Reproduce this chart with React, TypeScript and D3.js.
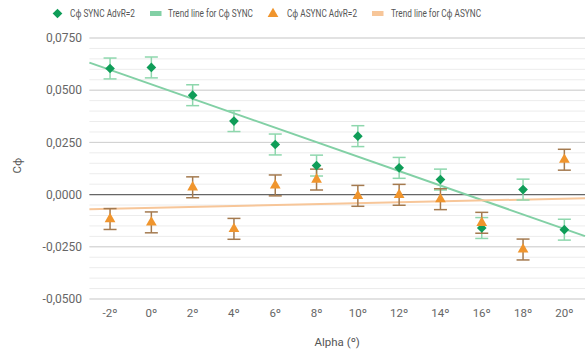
import React from "react";
import * as d3 from "d3";

const categories = ["-2º", "0º", "2º", "4º", "6º", "8º", "10º", "12º", "14º", "16º", "18º", "20º"];
const syncValues = [0.0604, 0.0609, 0.0476, 0.0352, 0.024, 0.0139, 0.028, 0.0128, 0.0072, -0.016, 0.0024, -0.0168];
const asyncValues = [-0.0117, -0.0133, 0.0035, -0.0164, 0.0044, 0.0072, -0.0006, -0.0001, -0.0022, -0.0135, -0.0263, 0.0167];
const errorMargin = 0.005;
const yTicks = [-0.05, -0.025, 0, 0.025, 0.05, 0.075];
const legendLabels = ["Cϕ SYNC AdvR=2", "Trend line for Cϕ SYNC", "Cϕ ASYNC AdvR=2", "Trend line for Cϕ ASYNC"];

const W = 587, H = 352;
const left = 89.4, right = 585, top = 38, bottom = 299;
const font = "Roboto, 'Noto Sans', sans-serif";

function regression(vals: number[]) {
  const n = vals.length;
  const mx = (n - 1) / 2;
  const my = d3.mean(vals) as number;
  let sxy = 0, sxx = 0;
  vals.forEach((v, i) => { sxy += (i - mx) * (v - my); sxx += (i - mx) * (i - mx); });
  const b = sxy / sxx;
  return (i: number) => my + b * (i - mx);
}

export default function App() {
  const x = d3.scaleBand<string>().domain(categories).range([left, right]);
  const bw = x.bandwidth();
  const cx = (i: number) => (x(categories[i]) as number) + bw / 2;
  const y = d3.scaleLinear().domain([-0.05, 0.075]).range([bottom, top]);
  const minor = d3.range(-0.05, 0.0751, 0.005).map(v => Math.round(v * 1000) / 1000);
  const fmt = (v: number) => (v < 0 ? "-" : "") + Math.abs(v).toFixed(4).replace(".", ",");
  const iToX = d3.scaleLinear().domain([-0.5, categories.length - 0.5]).range([left, right]);
  const rs = regression(syncValues);
  const ra = regression(asyncValues);
  const trend = (f: (i: number) => number) => {
    const line = d3.line<number>().x(i => iToX(i)).y(i => y(f(i)));
    return line([-0.5, categories.length - 0.5]) as string;
  };
  const green = "#0f9d58";
  const greenLight = "#8ed7ad";
  const greenTrend = "#82d0a5";
  const orange = "#f0952d";
  const brown = "#a47a4f";
  const orangeTrend = "#f7c699";
  const cap = 6.5;
  const diamond = d3.symbol().type(d3.symbolDiamond2).size(60)() as string;
  const tri = d3.symbol().type(d3.symbolTriangle).size(50)() as string;

  return (
    <svg width={W} height={H} style={{ position: "absolute", left: 0, top: 0, background: "#fff" }}>
      {minor.map(v => (
        <line key={"m" + v} x1={left} x2={right} y1={y(v)} y2={y(v)} stroke="#ececec" strokeWidth={1} />
      ))}
      {yTicks.map(v => (
        <g key={"t" + v}>
          <line x1={left} x2={right} y1={y(v)} y2={y(v)} stroke={v === 0 ? "#666" : "#cfcfcf"} strokeWidth={v === 0 ? 1.3 : 1} />
          <text x={82} y={y(v)} dy="0.35em" textAnchor="end" fontFamily={font} fontSize={12} fill="#666">{fmt(v)}</text>
        </g>
      ))}
      {categories.map((c, i) => (
        <text key={c} x={cx(i)} y={317} textAnchor="middle" fontFamily={font} fontSize={11.5} fill="#666">{c}</text>
      ))}
      <text x={(left + right) / 2} y={346} textAnchor="middle" fontFamily={font} fontSize={11.5} fill="#555">Alpha (º)</text>
      <text transform={`translate(21,${(top + bottom) / 2 - 3}) rotate(-90)`} textAnchor="middle" fontFamily={font} fontSize={11.5} fill="#555">Cϕ</text>

      <path d={trend(rs)} stroke={greenTrend} strokeWidth={2} fill="none" />
      <path d={trend(ra)} stroke={orangeTrend} strokeWidth={2} fill="none" />

      {syncValues.map((v, i) => (
        <g key={"s" + i}>
          <line x1={cx(i)} x2={cx(i)} y1={y(v - errorMargin)} y2={y(v + errorMargin)} stroke={greenLight} strokeWidth={1.5} />
          <line x1={cx(i) - cap} x2={cx(i) + cap} y1={y(v - errorMargin)} y2={y(v - errorMargin)} stroke={greenLight} strokeWidth={1.5} />
          <line x1={cx(i) - cap} x2={cx(i) + cap} y1={y(v + errorMargin)} y2={y(v + errorMargin)} stroke={greenLight} strokeWidth={1.5} />
        </g>
      ))}
      {asyncValues.map((v, i) => (
        <g key={"a" + i}>
          <line x1={cx(i)} x2={cx(i)} y1={y(v - errorMargin)} y2={y(v + errorMargin)} stroke={brown} strokeWidth={1.5} />
          <line x1={cx(i) - cap} x2={cx(i) + cap} y1={y(v - errorMargin)} y2={y(v - errorMargin)} stroke={brown} strokeWidth={1.5} />
          <line x1={cx(i) - cap} x2={cx(i) + cap} y1={y(v + errorMargin)} y2={y(v + errorMargin)} stroke={brown} strokeWidth={1.5} />
        </g>
      ))}
      {syncValues.map((v, i) => (
        <path key={"sd" + i} d={diamond} transform={`translate(${cx(i)},${y(v)})`} fill={green} />
      ))}
      {asyncValues.map((v, i) => (
        <path key={"at" + i} d={tri} transform={`translate(${cx(i)},${y(v)})`} fill={orange} />
      ))}

      <g fontFamily={font} fontSize={10} fill="#555">
        <path d={diamond} transform="translate(57.5,13.5)" fill={green} />
        <text x={70} y={13.5} dy="0.35em" textLength={65} lengthAdjust="spacingAndGlyphs">{legendLabels[0]}</text>
        <rect x={150} y={11} width={11.5} height={5} fill={greenTrend} />
        <text x={168} y={13.5} dy="0.35em" textLength={85} lengthAdjust="spacingAndGlyphs">{legendLabels[1]}</text>
        <path d={tri} transform="translate(273,14)" fill={orange} />
        <text x={287} y={13.5} dy="0.35em" textLength={70} lengthAdjust="spacingAndGlyphs">{legendLabels[2]}</text>
        <rect x={372} y={11} width={11.5} height={5} fill={orangeTrend} />
        <text x={391} y={13.5} dy="0.35em" textLength={90} lengthAdjust="spacingAndGlyphs">{legendLabels[3]}</text>
      </g>
    </svg>
  );
}
